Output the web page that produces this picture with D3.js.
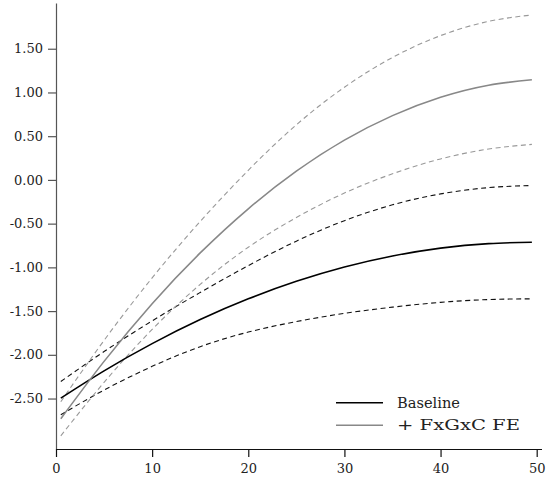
<!DOCTYPE html>
<html lang="en">

<head>
    <meta charset="UTF-8">
    <title>Baseline vs FxGxC FE</title>
    <style>
        body {
            margin: 0;
            background-color: #fff;
        }

        svg {
            display: block;
        }

        .axis text {
            font: 13px "DejaVu Serif", serif;
            fill: #222;
        }

        .legend text {
            font: 14.5px "DejaVu Serif", serif;
            fill: #222;
        }
    </style>
</head>

<body>

    <svg id="chart" width="546" height="481"></svg>

    <script src="https://d3js.org/d3.v7.min.js"></script>
    <script>
        // values
        const xs = [0.5, 5, 10, 15, 20, 25, 30, 35, 40, 45, 49.5];

        const baseline = [-2.495, -2.183, -1.872, -1.597, -1.360, -1.160, -0.996, -0.870, -0.780, -0.728, -0.712];
        const baselineUpper = [-2.305, -1.963, -1.612, -1.287, -0.980, -0.700, -0.466, -0.285, -0.160, -0.088, -0.064];
        const baselineLower = [-2.685, -2.403, -2.132, -1.907, -1.740, -1.620, -1.526, -1.455, -1.400, -1.368, -1.360];

        const fe = [-2.731, -2.075, -1.415, -0.835, -0.330, 0.100, 0.455, 0.735, 0.945, 1.083, 1.146];
        const feUpper = [-2.536, -1.835, -1.120, -0.475, 0.110, 0.630, 1.060, 1.400, 1.650, 1.813, 1.886];
        const feLower = [-2.926, -2.315, -1.710, -1.195, -0.770, -0.430, -0.150, 0.070, 0.240, 0.353, 0.406];

        const xTicks = [0, 10, 20, 30, 40, 50];
        const yTicks = [-2.5, -2, -1.5, -1, -0.5, 0, 0.5, 1, 1.5];

        const legendLabels = ["Baseline", "+ FxGxC FE"];

        const svg = d3.select("#chart");

        const x = d3.scaleLinear().domain([0, 50.5]).range([56, 541.5]);
        const y = d3.scaleLinear().domain([-3.077, 2.023]).range([449, 3]);

        // axes
        const yAxis = svg.append("g")
            .attr("class", "axis")
            .attr("transform", "translate(56,0)")
            .call(d3.axisLeft(y)
                .tickValues(yTicks)
                .tickFormat(d => d.toFixed(2))
                .tickSize(8)
                .tickSizeOuter(0)
                .tickPadding(5));
        yAxis.selectAll("path, line").attr("stroke", "#555").attr("stroke-width", 1.2);

        const xAxis = svg.append("g")
            .attr("class", "axis")
            .attr("transform", "translate(0,449)")
            .call(d3.axisBottom(x)
                .tickValues(xTicks)
                .tickSize(8)
                .tickSizeOuter(0)
                .tickPadding(7));
        xAxis.selectAll("path, line").attr("stroke", "#111").attr("stroke-width", 1.2);

        // curves
        const line = d3.line()
            .x((d, i) => x(xs[i]))
            .y(d => y(d))
            .curve(d3.curveNatural);

        const series = [
            { values: baselineUpper, color: "#111", width: 1.1, dash: "5,3.5" },
            { values: baselineLower, color: "#111", width: 1.1, dash: "5,3.5" },
            { values: feUpper, color: "#999", width: 1.1, dash: "5,3.5" },
            { values: feLower, color: "#999", width: 1.1, dash: "5,3.5" },
            { values: baseline, color: "#000", width: 1.6, dash: null },
            { values: fe, color: "#888", width: 1.6, dash: null }
        ];

        svg.selectAll(".curve")
            .data(series)
            .enter().append("path")
            .attr("class", "curve")
            .attr("fill", "none")
            .attr("stroke", d => d.color)
            .attr("stroke-width", d => d.width)
            .attr("stroke-dasharray", d => d.dash)
            .attr("d", d => line(d.values));

        // legend
        const legendColors = ["#000", "#888"];
        const legendWidths = [63, 123];
        const legend = svg.append("g").attr("class", "legend");
        legendLabels.forEach((label, i) => {
            const ly = 402.7 + i * 22.5;
            legend.append("line")
                .attr("x1", 336).attr("x2", 383)
                .attr("y1", ly).attr("y2", ly)
                .attr("stroke", legendColors[i])
                .attr("stroke-width", 1.6);
            legend.append("text")
                .attr("x", 397)
                .attr("y", ly)
                .attr("dy", "0.35em")
                .attr("textLength", legendWidths[i])
                .attr("lengthAdjust", "spacingAndGlyphs")
                .text(label);
        });
    </script>
</body>

</html>
